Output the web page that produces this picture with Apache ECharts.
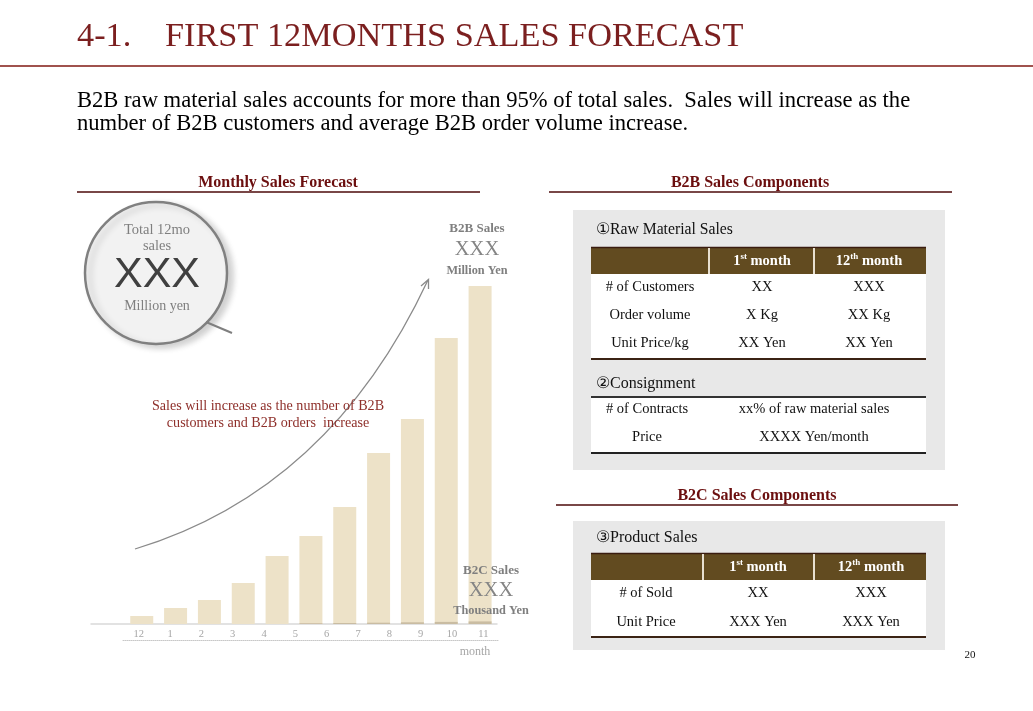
<!DOCTYPE html>
<html><head><meta charset="utf-8">
<script src="https://cdn.jsdelivr.net/npm/echarts@6/dist/echarts.min.js"></script>
<style>html,body{margin:0;padding:0;background:#fff}#c{width:1033px;height:711px}</style>
</head><body><div id="c"></div>
<script>
// ---- data ----
const monthLabels = ['12', '1', '2', '3', '4', '5', '6', '7', '8', '9', '10', '11'];
const barSlots = ['', '12', '1', '2', '3', '4', '5', '6', '7', '8', '9', '10'];
const b2bSales = [null, 8, 16, 24, 41, 68, 88, 117, 171, 205, 286, 338];
const b2cSales = [null, 0, 0, 0, 0, 0, 0.8, 1, 1.3, 1.7, 2.1, 2.6];
const rawHeader = ['', '1st month', '12th month'];
const rawRows = [['# of Customers', 'XX', 'XXX'], ['Order volume', 'X Kg', 'XX Kg'], ['Unit Price/kg', 'XX Yen', 'XX Yen']];
const consRows = [['# of Contracts', 'xx% of raw material sales'], ['Price', 'XXXX Yen/month']];
const prodRows = [['# of Sold', 'XX', 'XXX'], ['Unit Price', 'XXX Yen', 'XXX Yen']];

const SERIF = '"Liberation Serif", "DejaVu Serif", serif';
const SANS = '"Liberation Sans", Arial, sans-serif';
const G = [];
function txt(x, y, text, size, color, align, weight, extra) {
  G.push({type: 'text', z: 100, silent: true, style: Object.assign({
    x: x, y: y, text: text, fill: color || '#000', fontFamily: SERIF, fontSize: size || 14,
    fontWeight: weight || 'normal', textAlign: align || 'center', textVerticalAlign: 'middle'
  }, extra || {})});
}
function rect(x, y, w, h, fill) {
  G.push({type: 'rect', z: 90, silent: true, shape: {x: x, y: y, width: w, height: h}, style: {fill: fill}});
}
function line(x1, y1, x2, y2, color, w, z) {
  G.push({type: 'line', z: z || 95, silent: true, shape: {x1: x1, y1: y1, x2: x2, y2: y2}, style: {stroke: color, lineWidth: w}});
}
function monthHeader(x, y, label) {
  const m = label.match(/^(\d+)(st|th)(.*)$/);
  G.push({type: 'text', z: 100, silent: true, style: {
    x: x, y: y, text: '{b|' + m[1] + '}{s|' + m[2] + '}{b|' + m[3] + '}',
    textAlign: 'center', textVerticalAlign: 'middle',
    rich: {
      b: {fontFamily: SERIF, fontSize: 14.5, fontWeight: 'bold', fill: '#fff', color: '#fff', lineHeight: 18},
      s: {fontFamily: SERIF, fontSize: 9, fontWeight: 'bold', fill: '#fff', color: '#fff', lineHeight: 18, verticalAlign: 'top', padding: [0, 0, 6, 0]}
    }
  }});
}

// ---- title ----
txt(77, 37, '4-1.', 34.3, '#7b1f1f', 'left');
txt(165, 37, 'FIRST 12MONTHS SALES FORECAST', 34.3, '#7b1f1f', 'left');
line(0, 66, 1033, 66, '#a0524e', 2);
txt(77, 101, 'B2B raw material sales accounts for more than 95% of total sales.  Sales will increase as the', 22.6, '#000', 'left');
txt(77, 124, 'number of B2B customers and average B2B order volume increase.', 22.6, '#000', 'left');

// ---- section headings ----
txt(278, 183, 'Monthly Sales Forecast', 16, '#6b0e0e', 'center', 'bold');
line(77, 192, 480, 192, '#4d0a0a', 1.6);
txt(750, 183, 'B2B Sales Components', 16, '#6b0e0e', 'center', 'bold');
line(549, 192, 952, 192, '#4d0a0a', 1.6);
txt(757, 496, 'B2C Sales Components', 16, '#6b0e0e', 'center', 'bold');
line(556, 505, 958, 505, '#4d0a0a', 1.6);

// ---- B2B box ----
rect(573, 210, 372, 260, '#e8e8e8');
txt(596, 230, '\u2460Raw Material Sales', 15.7, '#111', 'left');
rect(591, 247, 335, 27, '#624b20');
line(591, 247.5, 926, 247.5, '#3a1c10', 1.5, 96);
line(709, 248, 709, 274, '#e8e0d0', 2, 96);
line(814, 248, 814, 274, '#e8e0d0', 2, 96);
monthHeader(762, 261, rawHeader[1]);
monthHeader(869, 261, rawHeader[2]);
rect(591, 274, 335, 85, '#fff');
line(591, 359, 926, 359, '#3b2314', 2);
rawRows.forEach(function (r, i) {
  const y = 287 + i * 28;
  txt(650, y, r[0], 14.5, '#111');
  txt(762, y, r[1], 14.5, '#111');
  txt(869, y, r[2], 14.5, '#111');
});
txt(596, 384, '\u2461Consignment', 16, '#111', 'left');
rect(591, 397, 335, 56, '#fff');
line(591, 397, 926, 397, '#333', 2);
line(591, 453, 926, 453, '#222', 2);
consRows.forEach(function (r, i) {
  const y = 409 + i * 28;
  txt(647, y, r[0], 14.5, '#111');
  txt(814, y, r[1], 14.5, '#111');
});

// ---- B2C box ----
rect(573, 521, 372, 129, '#e8e8e8');
txt(596, 538, '\u2462Product Sales', 16, '#111', 'left');
rect(591, 553, 335, 27, '#624b20');
line(591, 553.5, 926, 553.5, '#3a1c10', 1.5, 96);
line(703, 554, 703, 580, '#e8e0d0', 2, 96);
line(814, 554, 814, 580, '#e8e0d0', 2, 96);
monthHeader(758, 567, rawHeader[1]);
monthHeader(871, 567, rawHeader[2]);
rect(591, 580, 335, 57, '#fff');
line(591, 637, 926, 637, '#3b2314', 2);
prodRows.forEach(function (r, i) {
  const y = 593 + i * 29;
  txt(646, y, r[0], 14.5, '#111');
  txt(758, y, r[1], 14.5, '#111');
  txt(871, y, r[2], 14.5, '#111');
});
txt(970, 655, '20', 11, '#111');

// ---- chart annotations ----
G.push({type: 'circle', z: 90, silent: true, shape: {cx: 156, cy: 273, r: 71},
  style: {fill: '#f2f2f2', stroke: '#808080', lineWidth: 2.5, shadowBlur: 6, shadowColor: 'rgba(0,0,0,0.18)', shadowOffsetX: 5, shadowOffsetY: 3}});
line(206, 322, 232, 333, '#7f7f7f', 2);
txt(157, 230, 'Total 12mo', 14.5, '#7f7f7f');
txt(157, 246, 'sales', 14.5, '#7f7f7f');
txt(157, 275, 'XXX', 43, '#404040', 'center', 'normal', {fontFamily: SANS});
txt(157, 306, 'Million yen', 14, '#7f7f7f');

G.push({type: 'bezierCurve', z: 92, silent: true, shape: {x1: 135, y1: 549, x2: 428, y2: 280, cpx1: 330, cpy1: 490},
  style: {stroke: '#8a8a8a', lineWidth: 1.3, fill: null}});
G.push({type: 'polyline', z: 92, silent: true, shape: {points: [[421, 286], [428.5, 279.5], [428.5, 289]]},
  style: {stroke: '#8a8a8a', lineWidth: 1.3, fill: null}});
rect(148, 394, 242, 42, '#fff');
txt(268, 406, 'Sales will increase as the number of B2B', 14.1, '#8e2f2a');
txt(268, 423, 'customers and B2B orders  increase', 14.1, '#8e2f2a');

txt(477, 229, 'B2B Sales', 13, '#7f7f7f', 'center', 'bold');
txt(477, 250, 'XXX', 20.5, '#858585');
txt(477, 271, 'Million Yen', 12.3, '#7f7f7f', 'center', 'bold');
txt(491, 571, 'B2C Sales', 13, '#7f7f7f', 'center', 'bold');
txt(491, 591, 'XXX', 20.5, '#858585');
txt(491, 611, 'Thousand Yen', 12.3, '#7f7f7f', 'center', 'bold');
txt(475, 652, 'month', 12, '#a6a6a6');

const chart = echarts.init(document.getElementById('c'), null, {renderer: 'canvas'});
chart.setOption({
  animation: false,
  backgroundColor: '#fff',
  grid: [
    {left: 91, width: 406, top: 274, height: 350},
    {left: 123, width: 376, top: 630, height: 10}
  ],
  xAxis: [
    {type: 'category', gridIndex: 0, data: barSlots, axisLine: {lineStyle: {color: '#d9d9d9', width: 1.5}},
      axisTick: {show: false}, axisLabel: {show: false}},
    {type: 'category', gridIndex: 1, data: monthLabels, axisLine: {lineStyle: {color: '#c8c8c8', type: 'dotted'}},
      axisTick: {show: false}, axisLabel: {inside: true, margin: 0, interval: 0, color: '#a6a6a6', fontSize: 10.5, fontFamily: SERIF}}
  ],
  yAxis: [
    {type: 'value', gridIndex: 0, min: 0, max: 350, show: false},
    {type: 'value', gridIndex: 1, show: false}
  ],
  series: [
    {type: 'bar', name: 'B2B Sales', xAxisIndex: 0, yAxisIndex: 0, data: b2bSales, barWidth: 23, barGap: '-100%',
      itemStyle: {color: '#ede2c8'}, z: 2},
    {type: 'bar', name: 'B2C Sales', xAxisIndex: 0, yAxisIndex: 0, data: b2cSales, barWidth: 23,
      itemStyle: {color: '#c9bca2'}, z: 3}
  ],
  graphic: G
});
</script></body></html>
